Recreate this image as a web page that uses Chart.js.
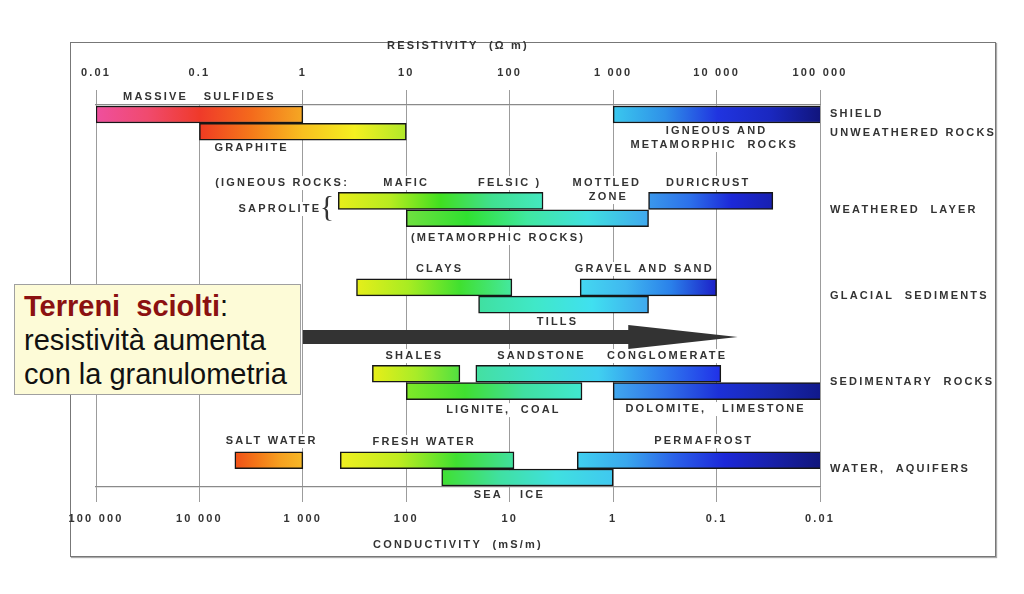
<!DOCTYPE html>
<html>
<head>
  <meta charset="UTF-8" />
  <title>Resistivity / conductivity</title>
  <script src="https://cdn.jsdelivr.net/npm/chart.js"></script>
  <style>
    body { margin: 0; background: #fff; }
    #wrap { position: relative; width: 1024px; height: 594px; overflow: hidden; }
    #frame { position: absolute; left: 70px; top: 42px; width: 924px; height: 513px; border: 1px solid #777; box-shadow: 1px 1px 1px #aaa; }
    #chart { position: absolute; left: 0; top: 0; }
    #note {
      position: absolute; left: 14px; top: 284px; width: 287px; height: 111px; box-sizing: border-box;
      background: #fdfbd7; border: 1px solid #a0a0a0; padding: 4px 0 0 9px;
      font-family: "Liberation Sans", Arial, sans-serif; font-size: 29px; line-height: 34px; color: #111;
    }
    #note b { color: #8b1111; }
  </style>
</head>
<body>
<div id="wrap">
  <div id="frame"></div>
  <canvas id="chart" width="1024" height="594"></canvas>
  <div id="note"><b>Terreni&nbsp; sciolti</b>:<br>resistività aumenta<br>con la granulometria</div>
</div>

<script>
  // axis ticks (resistivity in ohm.m on top, conductivity in mS/m at the bottom)
  const resTicks = [0.01, 0.1, 1, 10, 100, 1000, 10000, 100000];
  const resTickLabels = ['0.01', '0.1', '1', '10', '100', '1 000', '10 000', '100 000'];
  const condTicks = [100000, 10000, 1000, 100, 10, 1, 0.1, 0.01];
  const condTickLabels = ['100 000', '10 000', '1 000', '100', '10', '1', '0.1', '0.01'];

  // row groups (right hand labels)
  const groupRows = [0, 1, 2, 3, 4];
  const groupLabels = [['SHIELD', 'UNWEATHERED ROCKS'], 'WEATHERED  LAYER', 'GLACIAL  SEDIMENTS', 'SEDIMENTARY  ROCKS', 'WATER,  AQUIFERS'];

  // bars: resistivity range, group, upper (0) or lower (1) line
  const barNames = ['Massive sulfides', 'Graphite', 'Igneous and metamorphic rocks',
    'Saprolite (igneous)', 'Saprolite (metamorphic)', 'Duricrust',
    'Clays', 'Gravel and sand', 'Tills',
    'Shales', 'Sandstone, conglomerate', 'Lignite, coal', 'Dolomite, limestone',
    'Salt water', 'Fresh water', 'Sea ice', 'Permafrost'];
  const barLow  = [0.01, 0.1, 1000, 2.2, 10, 2200, 3.3, 480, 50, 4.7, 47, 10, 1000, 0.22, 2.3, 22, 450];
  const barHigh = [1, 10, 105000, 210, 2200, 35000, 105, 10000, 2200, 33, 11000, 500, 110000, 1, 110, 1000, 105000];
  const barGroup = [0, 0, 0, 1, 1, 1, 2, 2, 2, 3, 3, 3, 3, 4, 4, 4, 4];
  const barLevel = [0, 1, 0, 0, 1, 0, 0, 0, 1, 0, 0, 1, 1, 0, 0, 1, 0];

  // colour ramps for each bar, left to right
  const barStops = [
    ['#ef4f9e', '#f04a6e', '#ef3a2a', '#f46a1c', '#f5a823'],
    ['#ef3a22', '#f57a1a', '#f8c020', '#f4f020', '#b0e82a'],
    ['#3ac8ee', '#2f90e8', '#2034e0', '#1a28c0', '#10147a'],
    ['#e8ee1a', '#b8ec20', '#40e020', '#40e090', '#44e8c0'],
    ['#70e040', '#30e030', '#40e8a0', '#40e0e0', '#40a8ee'],
    ['#3a98ec', '#2c70ea', '#1c28d8', '#1820b0'],
    ['#e6ee1a', '#a8ec22', '#40e030', '#44e8a0'],
    ['#44d8f0', '#40b8f0', '#2a80ea', '#1c20c8'],
    ['#40e0a0', '#40e8c8', '#40e0f0', '#40a8ee'],
    ['#e8ee18', '#a8ec28', '#50e040'],
    ['#44e0a0', '#40e0d0', '#40d0f0', '#3080ee', '#2030e8'],
    ['#80e828', '#40e030', '#40e0a0', '#40e8d0'],
    ['#40a8ee', '#3070e8', '#1c30d8', '#1828b0', '#101888'],
    ['#f05018', '#f47818', '#f6a020', '#f5b828'],
    ['#f0f020', '#c0ec20', '#40e030', '#40e0a0'],
    ['#40e030', '#40e0a0', '#40e0e0', '#40c8f0'],
    ['#40d0f0', '#3aa8ee', '#2a60e8', '#1c28d8', '#1820a8', '#10157a']
  ];

  // text annotations: resistivity at the text centre, row position
  const labelText = ['MASSIVE   SULFIDES', 'GRAPHITE', 'IGNEOUS AND', 'METAMORPHIC  ROCKS',
    '(IGNEOUS ROCKS:', 'MAFIC', 'FELSIC )', 'MOTTLED', 'ZONE', 'DURICRUST', 'SAPROLITE', '(METAMORPHIC ROCKS)',
    'CLAYS', 'GRAVEL AND SAND', 'TILLS',
    'SHALES', 'SANDSTONE', 'CONGLOMERATE', 'LIGNITE,  COAL', 'DOLOMITE,   LIMESTONE',
    'SALT WATER', 'FRESH WATER', 'PERMAFROST', 'SEA', 'ICE'];
  const labelRes = [0.1, 0.32, 10000, 9500,
    0.63, 10, 100, 870, 900, 8300, 0.6, 77,
    21, 2000, 290,
    12, 203, 3330, 87, 9800,
    0.5, 14.9, 7500, 62, 166];
  const labelRow = [-0.303, 0.288, 0.091, 0.253,
    0.693, 0.693, 0.693, 0.693, 0.855, 0.693, 0.994, 1.329,
    1.688, 1.688, 2.302,
    2.695, 2.695, 2.695, 3.32, 3.308,
    3.679, 3.69, 3.679, 4.304, 4.304];

  // big arrow: from / head start / tip in resistivity, row position
  const arrowFrom = 1, arrowHead = 1400, arrowTo = 16000, arrowRow = 2.475;
  const braceRes = 1.71, braceRow = 0.982;

  const fontFamily = '"Liberation Sans", Arial, sans-serif';
  Chart.defaults.font.family = fontFamily;
  Chart.defaults.font.size = 11;
  Chart.defaults.font.weight = 'bold';
  Chart.defaults.color = '#333';

  const barFill = (c) => {
    if (c.type !== 'data') return '#ccc';
    const i = c.dataIndex;
    const stops = barStops[i];
    const xs = c.chart.scales.x;
    const x0 = xs ? xs.getPixelForValue(barLow[i]) : NaN;
    const x1 = xs ? xs.getPixelForValue(barHigh[i]) : NaN;
    if (!isFinite(x0) || !isFinite(x1)) return stops[0];
    const g = c.chart.ctx.createLinearGradient(x0, 0, x1, 0);
    stops.forEach((col, k) => g.addColorStop(k / (stops.length - 1), col));
    return g;
  };

  const annotations = {
    id: 'annotations',
    beforeDraw(chart) {
      chart.ctx.letterSpacing = '2.2px';
    },
    afterDatasetsDraw(chart) {
      const { ctx, scales: { x, y } } = chart;
      ctx.save();
      ctx.font = 'bold 11px ' + fontFamily;
      ctx.textAlign = 'center';
      ctx.textBaseline = 'middle';
      labelText.forEach((t, i) => {
        const px = x.getPixelForValue(labelRes[i]);
        const py = y.getPixelForValue(labelRow[i]);
        const w = ctx.measureText(t).width;
        ctx.fillStyle = '#fff';
        ctx.fillRect(px - w / 2 - 2, py - 7, w + 4, 14);
        ctx.fillStyle = '#333';
        ctx.fillText(t, px, py);
      });

      // brace next to SAPROLITE
      ctx.letterSpacing = '0px';
      ctx.font = '30px "Liberation Serif", serif';
      ctx.fillText('{', x.getPixelForValue(braceRes), y.getPixelForValue(braceRow));

      // arrow
      const ay = y.getPixelForValue(arrowRow);
      const x0 = x.getPixelForValue(arrowFrom);
      const xh = x.getPixelForValue(arrowHead);
      const xt = x.getPixelForValue(arrowTo);
      ctx.fillStyle = '#333';
      ctx.beginPath();
      ctx.moveTo(x0, ay - 7);
      ctx.lineTo(xh, ay - 7);
      ctx.lineTo(xh, ay - 12);
      ctx.lineTo(xt, ay);
      ctx.lineTo(xh, ay + 12);
      ctx.lineTo(xh, ay + 7);
      ctx.lineTo(x0, ay + 7);
      ctx.closePath();
      ctx.fill();
      ctx.restore();
    }
  };

  const gridColor = '#9c9c9c';

  new Chart(document.getElementById('chart'), {
    type: 'bar',
    data: {
      datasets: [{
        label: 'Resistivity range',
        data: barLow.map((lo, i) => ({ x: [lo, barHigh[i]], y: barGroup[i] + (barLevel[i] ? 0.1 : -0.1) })),
        backgroundColor: barFill,
        borderColor: '#161616',
        borderWidth: 1.5,
        borderSkipped: false,
        barThickness: 17,
        xAxisID: 'x',
        yAxisID: 'y'
      }]
    },
    options: {
      indexAxis: 'y',
      responsive: false,
      animation: false,
      events: [],
      layout: { padding: { top: 36, bottom: 38, left: 96, right: 0 } },
      plugins: { legend: { display: false }, tooltip: { enabled: false } },
      scales: {
        x: {
          type: 'logarithmic',
          position: 'top',
          min: 0.01,
          max: 100000,
          afterBuildTicks: (s) => { s.ticks = resTicks.map(v => ({ value: v })); },
          afterFit: (s) => { s.height = 69; },
          ticks: { autoSkip: false, maxRotation: 0, padding: 10, callback: (v, i) => resTickLabels[i] },
          grid: { color: gridColor, lineWidth: 1, tickLength: 15, tickColor: gridColor },
          border: { display: true, color: '#8a8a8a', width: 1.2 },
          title: { display: true, text: 'RESISTIVITY  (Ω m)', padding: { top: 3, bottom: 0 } }
        },
        x2: {
          type: 'logarithmic',
          position: 'bottom',
          reverse: true,
          min: 0.01,
          max: 100000,
          afterBuildTicks: (s) => { s.ticks = condTicks.map(v => ({ value: v })); },
          afterFit: (s) => { s.height = 69; },
          ticks: { autoSkip: false, maxRotation: 0, padding: 10, callback: (v, i) => condTickLabels[i] },
          grid: { drawOnChartArea: false, tickLength: 15, tickColor: gridColor },
          border: { display: true, color: '#8a8a8a', width: 1.2 },
          title: { display: true, text: 'CONDUCTIVITY  (mS/m)', padding: { top: 0, bottom: 4 } }
        },
        y: {
          type: 'linear',
          display: false,
          reverse: true,
          offset: false,
          grid: { offset: false },
          min: -0.21,
          max: 4.21
        },
        yR: {
          type: 'linear',
          position: 'right',
          reverse: true,
          offset: false,
          min: -0.21,
          max: 4.21,
          afterBuildTicks: (s) => { s.ticks = groupRows.map(v => ({ value: v })); },
          afterFit: (s) => { s.width = 204; },
          ticks: { padding: 10, font: { lineHeight: 1.75 }, callback: (v, i) => groupLabels[i] },
          grid: { display: false, drawTicks: false, offset: false },
          border: { display: false }
        }
      }
    },
    plugins: [annotations]
  });
</script>
</body>
</html>
